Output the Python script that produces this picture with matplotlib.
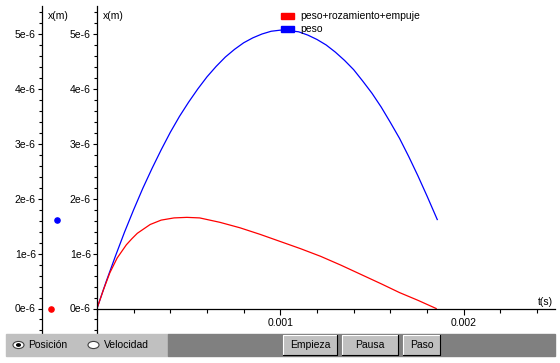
import matplotlib
matplotlib.use("Agg")
import matplotlib.pyplot as plt
from matplotlib.patches import Rectangle, Circle
from matplotlib.ticker import MultipleLocator, FuncFormatter

plt.rcParams['font.family'] = ['Liberation Sans', 'DejaVu Sans']
plt.rcParams['font.size'] = 7.5

# data (t in s, x in m)
t_peso = [0, 0.00005, 0.0001, 0.00015, 0.0002, 0.00025, 0.0003, 0.00035, 0.0004, 0.00045,
          0.0005, 0.00055, 0.0006, 0.00065, 0.0007, 0.00075, 0.0008, 0.00085, 0.0009,
          0.00095, 0.001, 0.00105, 0.0011, 0.00115, 0.0012, 0.00125, 0.0013, 0.00135,
          0.0014, 0.00145, 0.0015, 0.00155, 0.0016, 0.00165, 0.0017, 0.00175, 0.0018,
          0.001856]
x_peso = [0, 0.49e-6, 0.95e-6, 1.39e-6, 1.80e-6, 2.19e-6, 2.55e-6, 2.89e-6, 3.21e-6, 3.50e-6,
          3.76e-6, 4.00e-6, 4.22e-6, 4.41e-6, 4.58e-6, 4.72e-6, 4.84e-6, 4.93e-6, 5.00e-6,
          5.05e-6, 5.07e-6, 5.06e-6, 5.04e-6, 4.98e-6, 4.90e-6, 4.80e-6, 4.67e-6, 4.52e-6,
          4.35e-6, 4.14e-6, 3.92e-6, 3.67e-6, 3.39e-6, 3.10e-6, 2.77e-6, 2.42e-6, 2.05e-6,
          1.62e-6]

t_roz = [0, 0.000035, 0.00007, 0.00011, 0.00016, 0.00019, 0.00022, 0.00029, 0.00035,
         0.00042, 0.00049, 0.00056, 0.00067, 0.00078, 0.00089, 0.0010, 0.00111, 0.00122,
         0.00133, 0.00144, 0.00155, 0.00165, 0.00175, 0.00185]
x_roz = [0, 0.34e-6, 0.65e-6, 0.92e-6, 1.16e-6, 1.27e-6, 1.37e-6, 1.53e-6, 1.61e-6,
         1.65e-6, 1.66e-6, 1.65e-6, 1.57e-6, 1.47e-6, 1.35e-6, 1.22e-6, 1.09e-6, 0.95e-6,
         0.79e-6, 0.62e-6, 0.45e-6, 0.29e-6, 0.15e-6, 0.0]

series_names = ['peso+rozamiento+empuje', 'peso']
series_colors = ['#ff0000', '#0000ff']
buttons = ['Empieza', 'Pausa', 'Paso']
radios = ['Posición', 'Velocidad']

W, H = 560, 363
fig = plt.figure(figsize=(W / 100, H / 100), dpi=100)
fig.patch.set_facecolor('white')


def box(x0, y0, x1, y1):
    # pixel box (top-left origin) -> figure rect
    return [x0 / W, 1 - y1 / H, (x1 - x0) / W, (y1 - y0) / H]


def fx(px):
    return px / W


def fy(py):
    return 1 - py / H


# y mapping: 0 at 308.5 px, 54.9 px per 1e-6
y0_px, ppu = 308.5, 54.9e6
ytop = (y0_px - 6) / ppu
ybot = -(334 - y0_px) / ppu
ylab = FuncFormatter(lambda v, p: f"{int(round(v * 1e6))}e-6")

# main axes
ax = fig.add_axes(box(97, 6, 555, 334))
ax.set_facecolor('none')
ax.set_xlim(0, (555 - 97) / 183333.0)
ax.set_ylim(ybot, ytop)
for s in ['top', 'right']:
    ax.spines[s].set_visible(False)
ax.spines['bottom'].set_position(('data', 0))
ax.spines['left'].set_linewidth(0.9)
ax.spines['bottom'].set_linewidth(0.9)
ax.plot(t_peso, x_peso, color=series_colors[1], lw=0.9)
ax.plot(t_roz, x_roz, color=series_colors[0], lw=0.9)
ax.xaxis.set_major_locator(MultipleLocator(0.001))
ax.xaxis.set_minor_locator(MultipleLocator(0.0002))
ax.xaxis.set_major_formatter(FuncFormatter(lambda v, p: '' if v == 0 else f"{v:.3f}"))
ax.yaxis.set_minor_locator(MultipleLocator(0.2e-6))
ax.set_yticks([v * 1e-6 for v in range(6)])
ax.yaxis.set_major_formatter(ylab)
ax.tick_params(axis='x', which='major', length=4.5, width=0.8, pad=2, direction='out')
ax.tick_params(axis='x', which='minor', length=3, width=0.8, direction='out')
ax.tick_params(axis='y', which='major', length=3, width=0.8, pad=1.5, direction='out')
ax.tick_params(axis='y', which='minor', length=2.5, width=0.8, direction='out')
ax.text(fx(103), fy(16), 'x(m)', transform=fig.transFigure, va='center', ha='left')
ax.text(fx(538), fy(307), 't(s)', transform=fig.transFigure, va='bottom', ha='left')

# left (position) axes
axl = fig.add_axes(box(42, 6, 97, 334))
axl.set_facecolor('none')
axl.set_xlim(0, 55)
axl.set_ylim(ybot, ytop)
for s in ['top', 'right', 'bottom']:
    axl.spines[s].set_visible(False)
axl.spines['left'].set_linewidth(0.9)
axl.set_xticks([])
axl.yaxis.set_minor_locator(MultipleLocator(0.2e-6))
axl.set_yticks([v * 1e-6 for v in range(6)])
axl.yaxis.set_major_formatter(ylab)
axl.tick_params(axis='y', which='major', length=3, width=0.8, pad=1.5)
axl.tick_params(axis='y', which='minor', length=2.5, width=0.8)
axl.scatter([9], [x_roz[-1]], s=14, color=series_colors[0], zorder=5, clip_on=False)
axl.scatter([15], [x_peso[-1]], s=14, color=series_colors[1], zorder=5, clip_on=False)
axl.text(fx(48), fy(16), 'x(m)', transform=fig.transFigure, va='center', ha='left')

# legend
for i, (name, col) in enumerate(zip(series_names, series_colors)):
    yc = 16 + 13 * i
    fig.patches.append(Rectangle((fx(281), fy(yc + 2.5)), 13 / W, 5 / H,
                                 transform=fig.transFigure, color=col))
    fig.text(fx(300), fy(yc), name, va='center', ha='left')

# control bar
fig.patches.append(Rectangle((fx(6), fy(356)), (168 - 6) / W, 22 / H,
                             transform=fig.transFigure, color='#c0c0c0', zorder=0))
fig.patches.append(Rectangle((fx(168), fy(356)), (555 - 168) / W, 22 / H,
                             transform=fig.transFigure, color='#808080', zorder=0))

# radio buttons
for i, (lab, cx) in enumerate(zip(radios, [18.5, 93.5])):
    fig.patches.append(Circle((fx(cx), fy(345)), 5.5 / W, transform=fig.transFigure,
                              facecolor='white', edgecolor='#404040', lw=0.8))
    if i == 0:
        fig.patches.append(Circle((fx(cx), fy(345)), 1.8 / W, transform=fig.transFigure,
                                  color='black'))
    fig.text(fx(cx + 10), fy(345), lab, va='center', ha='left')

# push buttons
for lab, (bx0, bx1) in zip(buttons, [(283, 337), (342, 398), (403, 440)]):
    by0, by1 = 335, 355
    fig.patches.append(Rectangle((fx(bx0), fy(by1)), (bx1 - bx0) / W, (by1 - by0) / H,
                                 transform=fig.transFigure, facecolor='#c0c0c0',
                                 edgecolor='none'))
    fig.lines.append(plt.Line2D([fx(bx0), fx(bx0), fx(bx1)], [fy(by1), fy(by0), fy(by0)],
                                transform=fig.transFigure, color='white', lw=0.8))
    fig.lines.append(plt.Line2D([fx(bx0), fx(bx1), fx(bx1)], [fy(by1), fy(by1), fy(by0)],
                                transform=fig.transFigure, color='black', lw=0.8))
    fig.text(fx((bx0 + bx1) / 2), fy(345.5), lab, va='center', ha='center')

fig.savefig('out.png', dpi=100, facecolor='white')
